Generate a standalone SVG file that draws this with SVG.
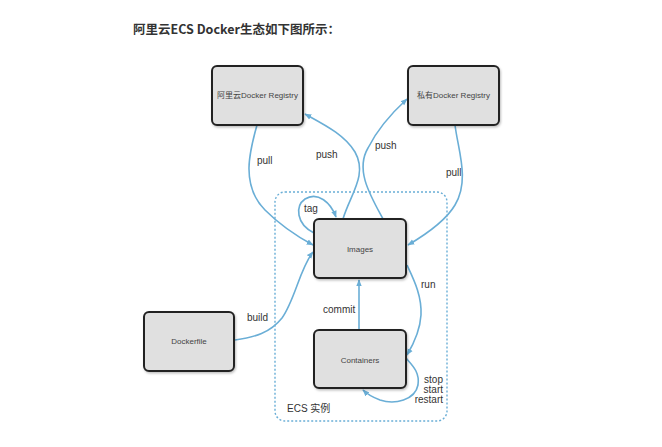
<svg xmlns="http://www.w3.org/2000/svg" width="662" height="447" viewBox="0 0 662 447">
<defs>
<marker id="ah" viewBox="0 0 10 10" refX="9" refY="5" markerWidth="7" markerHeight="7" orient="auto" markerUnits="userSpaceOnUse">
<path d="M0,1 L10,5 L0,9 z" fill="#6aaed6"/>
</marker>
<filter id="sh" x="-10%" y="-10%" width="130%" height="130%">
<feDropShadow dx="1" dy="1.5" stdDeviation="1.2" flood-color="#000" flood-opacity="0.25"/>
</filter>
</defs>
<style>
.box{fill:#e0e0e0;stroke:#222;stroke-width:2;filter:url(#sh)}
.bl{font-family:"Liberation Sans","Noto Sans CJK SC",sans-serif;font-size:8px;fill:#444;text-anchor:middle}
.lb{font-family:"Liberation Sans","Noto Sans CJK SC",sans-serif;font-size:10px;fill:#333}
.c{fill:none;stroke:#6aaed6;stroke-width:1.6;marker-end:url(#ah)}
.ecs{fill:none;stroke:#6aaed6;stroke-width:1.4;stroke-dasharray:2 2}
</style>
<rect width="662" height="447" fill="#fff"/>
<text x="133" y="34" font-family="'Noto Sans CJK SC','Liberation Sans',sans-serif" font-size="12.5" font-weight="bold" fill="#333">阿里云ECS Docker生态如下图所示：</text>

<g id="ecs">
<rect class="ecs" x="275" y="192" width="172" height="229" rx="10"/>
<text class="lb" x="287" y="412" font-size="9.5">ECS 实例</text>
</g>

<g id="connectors">
<path class="c" d="M257,125 C250,150 240,185 265,210 C280,225 300,238 313,245"/>
<path class="c" d="M343,219 C350,195 368,175 355,152 C345,135 325,125 305,114"/>
<path class="c" d="M383,219 C370,195 355,170 368,148 C378,128 395,110 407,99"/>
<path class="c" d="M455,125 C458,150 470,180 455,205 C445,222 425,235 408,245"/>
<path class="c" d="M314,233 C296,224 295,206 305,199 C318,191 331,203 336,217"/>
<path class="c" d="M235,340 C255,337 270,333 282,318 C295,300 300,268 313,252"/>
<path class="c" d="M359,330 L359,280"/>
<path class="c" d="M407,265 C413,278 422,295 421,315 C420,332 413,345 407,355"/>
<path class="c" d="M406,358 C412,365 420,372 418,385 C415,400 395,405 380,400 C372,397 367,394 363,390"/>
</g>

<g id="labels">
<text class="lb" x="257" y="164">pull</text>
<text class="lb" x="316" y="158">push</text>
<text class="lb" x="375" y="149">push</text>
<text class="lb" x="446" y="176">pull</text>
<text class="lb" x="304" y="212">tag</text>
<text class="lb" x="247" y="321">build</text>
<text class="lb" x="323" y="313">commit</text>
<text class="lb" x="421" y="288">run</text>
<text class="lb" x="443" y="383" text-anchor="end">stop</text>
<text class="lb" x="443" y="393" text-anchor="end">start</text>
<text class="lb" x="443" y="403" text-anchor="end">restart</text>
</g>

<g id="aliyun-registry">
<rect class="box" x="212" y="66" width="91" height="59" rx="5"/>
<text class="bl" x="257.5" y="98">阿里云Docker Registry</text>
</g>
<g id="private-registry">
<rect class="box" x="408" y="66" width="91" height="59" rx="5"/>
<text class="bl" x="453.5" y="98">私有Docker Registry</text>
</g>
<g id="images">
<rect class="box" x="314" y="219" width="92" height="59" rx="5"/>
<text class="bl" x="360" y="252">Images</text>
</g>
<g id="containers">
<rect class="box" x="314" y="330" width="92" height="58" rx="5"/>
<text class="bl" x="360" y="363">Containers</text>
</g>
<g id="dockerfile">
<rect class="box" x="144" y="312" width="90" height="59" rx="5"/>
<text class="bl" x="189" y="344">Dockerfile</text>
</g>
</svg>
